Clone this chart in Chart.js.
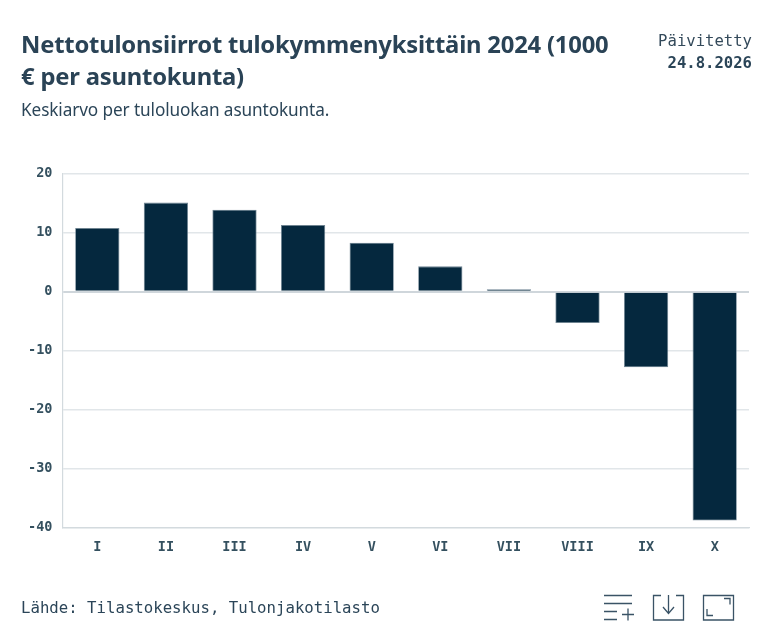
<!DOCTYPE html>
<html lang="fi"><head><meta charset="utf-8">
<script src="https://cdn.jsdelivr.net/npm/chart.js@4"></script>
<style>
html,body{margin:0;padding:0;background:#fff;width:777px;height:642px;overflow:hidden}
#wrap{position:relative;width:777px;height:642px}
#c{position:absolute;left:0;top:0}
.t{position:absolute;color:#2b4558;white-space:nowrap}
#title{left:21px;top:28px;font:700 23.8px/32px "Noto Sans",sans-serif;letter-spacing:-.2px;color:#2a4356}
#sub{left:21px;top:99px;font:400 17.2px/22px "Noto Sans",sans-serif;letter-spacing:-.1px}
#upd{right:25px;top:32px;font:400 15.6px/18px "DejaVu Sans Mono",monospace;text-align:right;color:#33495a}
#date{right:25px;top:54px;font:700 15.6px/18px "DejaVu Sans Mono",monospace;text-align:right}
#src{left:21px;top:599px;font:400 15.7px/18px "DejaVu Sans Mono",monospace}
svg{position:absolute;left:0;top:0}
</style></head><body>
<div id="wrap">
<canvas id="c" width="777" height="642"></canvas>
<div class="t" id="title">Nettotulonsiirrot tulokymmenyksittäin 2024 (1000<br>€ per asuntokunta)</div>
<div class="t" id="sub">Keskiarvo per tuloluokan asuntokunta.</div>
<div class="t" id="upd">Päivitetty</div>
<div class="t" id="date">24.8.2026</div>
<div class="t" id="src">Lähde: Tilastokeskus, Tulonjakotilasto</div>
<svg width="777" height="642" fill="none" stroke="#3a5366" stroke-width="1.3">
<path d="M604 595.5h28M604 603.5h28M604 611.5h13M604 619.5h13M622 614.5h12M628 608.5v12"/>
<path d="M661 595.5h-7.5v24.5h30v-24.5h-7.5"/><path d="M668.5 595v18M663 607l5.5 6.5 5.5-6.5"/>
<path d="M703.5 595.5h30v24.5h-30zM724 598.5h6v6M707 609v6.5h6"/>
</svg>
</div>
<script>
const categories = ["I","II","III","IV","V","VI","VII","VIII","IX","X"];
const netTransfers = [10.8, 15.1, 13.9, 11.3, 8.3, 4.3, 0.4, -5.3, -12.8, -38.8];
const yTicks = [20, 10, 0, -10, -20, -30, -40];
const mono = '"DejaVu Sans Mono", monospace';
Chart.defaults.animation = false;
new Chart(document.getElementById('c'), {
  type: 'bar',
  data: { labels: categories, datasets: [{
    data: netTransfers,
    backgroundColor: '#05283e',
    borderColor: '#6f8493',
    borderWidth: 0.8,
    categoryPercentage: 0.645,
    barPercentage: 1
  }]},
  options: {
    responsive: false,
    devicePixelRatio: 1,
    layout: { padding: { left: 0, right: 28, top: 173.7, bottom: 0 } },
    plugins: { legend: { display: false }, tooltip: { enabled: false } },
    scales: {
      x: {
        grid: { display: false, drawTicks: false },
        border: { color: '#d3dade', width: 1.2 },
        ticks: { color: '#34505f', font: { family: mono, size: 13.5, weight: 'bold' }, padding: 11.5, maxRotation: 0 },
        afterFit: s => { s.height = 642 - 527.7; }
      },
      y: {
        min: -40, max: 20,
        afterBuildTicks: s => { s.ticks = yTicks.map(v => ({ value: v })); },
        grid: {
          drawTicks: false,
          color: c => c.tick && c.tick.value === 0 ? '#cfd6db' : '#e1e6e9',
          lineWidth: c => c.tick && c.tick.value === 0 ? 2 : 1.4
        },
        border: { color: '#d3dade', width: 1.2 },
        ticks: { color: '#34505f', font: { family: mono, size: 13.5, weight: 'bold' }, padding: 10.5 },
        afterFit: s => { s.width = 63; }
      }
    }
  }
});
</script>
</body></html>
